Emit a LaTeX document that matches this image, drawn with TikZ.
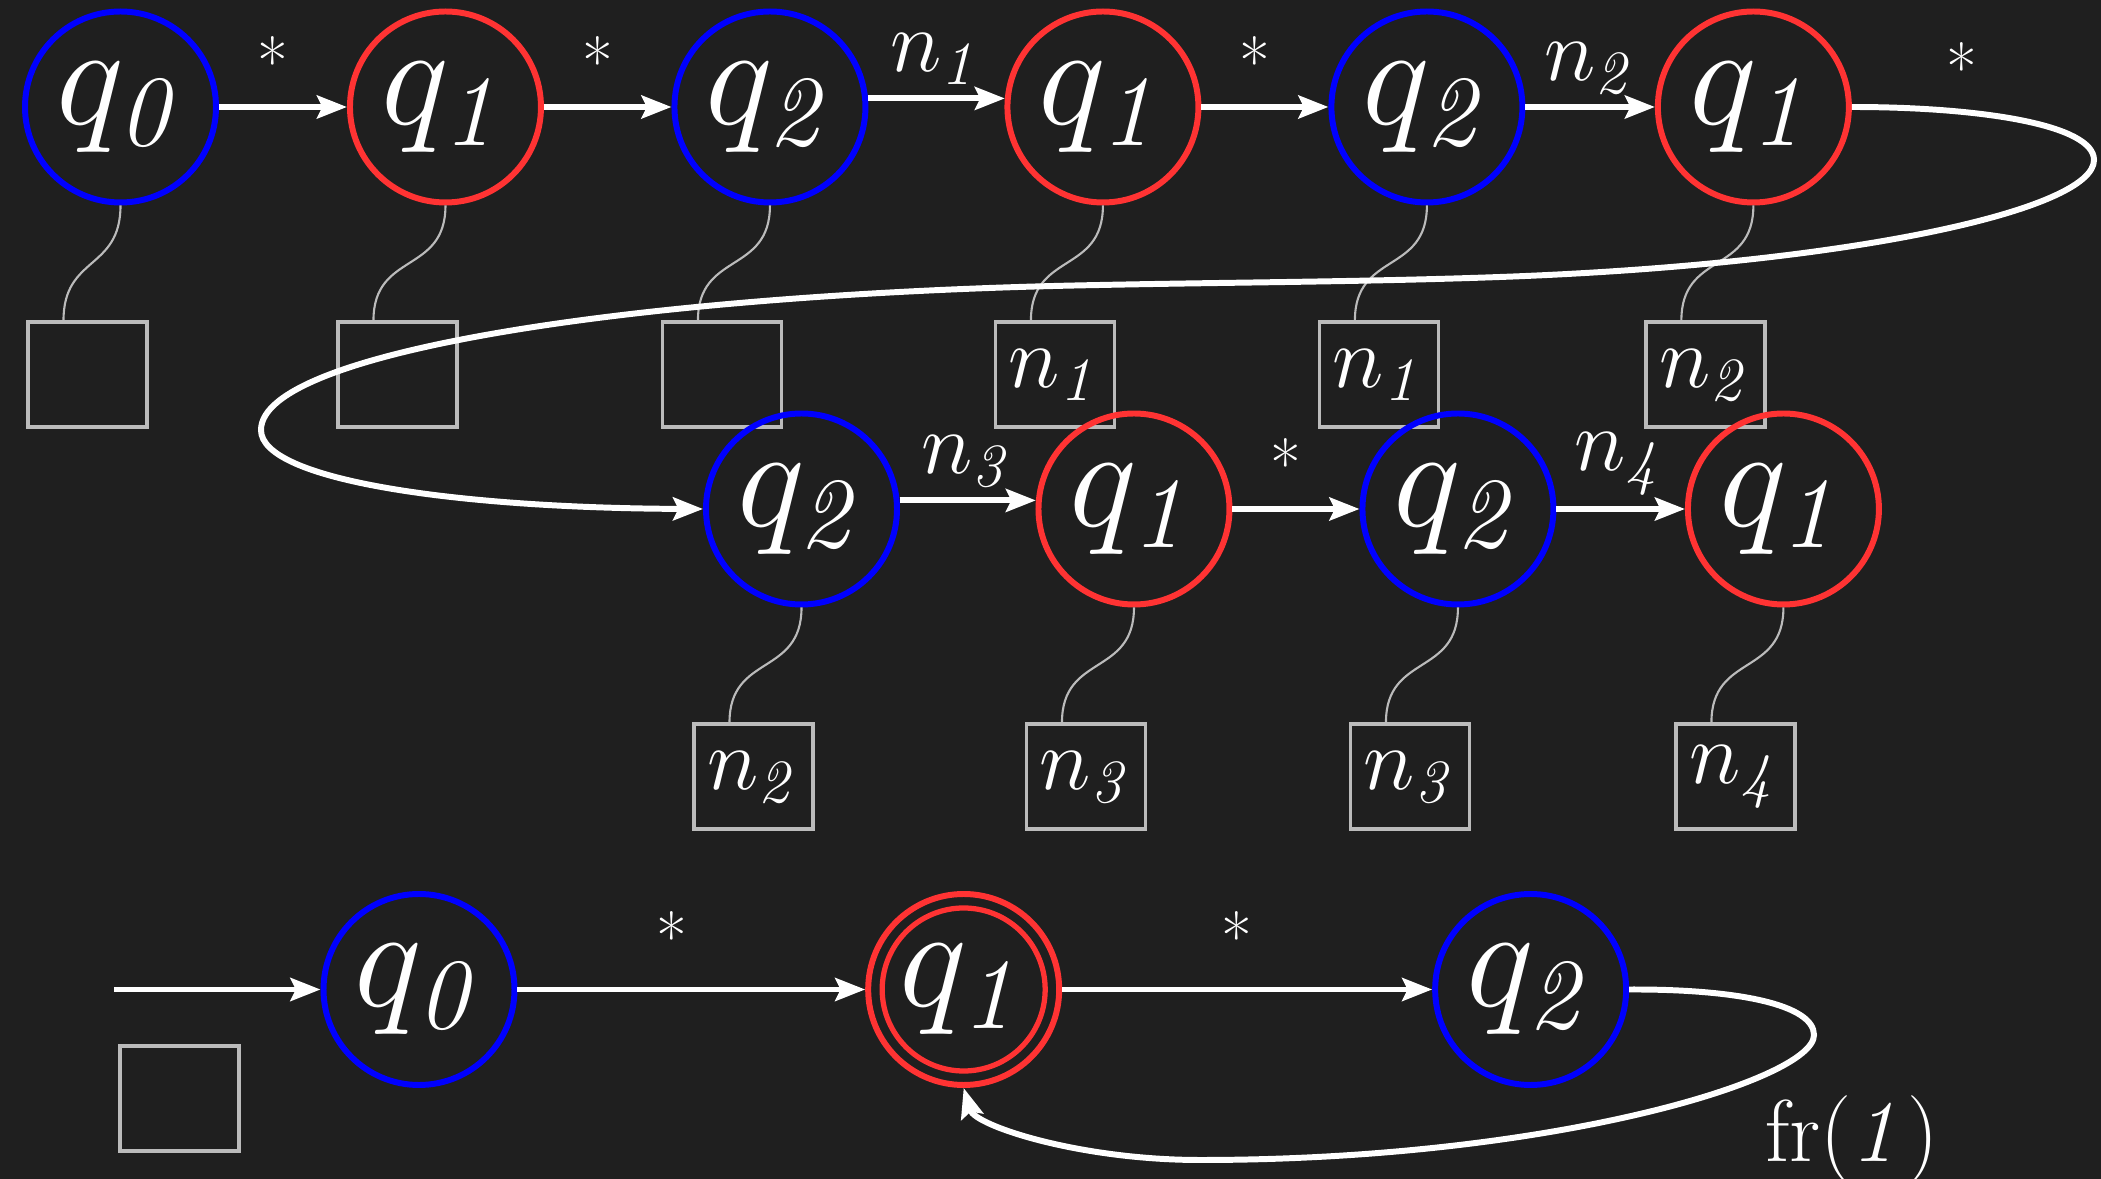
\RequirePackage{fix-cm}
\documentclass[tikz,border=0pt]{standalone}
\usetikzlibrary{arrows.meta, positioning}
\definecolor{bgdark}{HTML}{1F1F1F}
\definecolor{stblue}{HTML}{0000FF}
\definecolor{stred}{HTML}{FF3333}
\definecolor{boxgray}{HTML}{BBBBBB}

\begin{document}
\begin{tikzpicture}[
    node distance=1.28cm,
    state/.style={circle, draw, line width=1.7pt, minimum size=1.91cm,
                  inner sep=0pt, text=white, font=\fontsize{41}{48}\selectfont},
    sblue/.style={state, draw=stblue},
    sred/.style={state, draw=stred},
    stack/.style={draw=boxgray, line width=1pt, minimum width=1.19cm,
                  minimum height=1.05cm, inner sep=0pt, text=white,
                  font=\fontsize{25}{30}\selectfont},
    link/.style={draw=boxgray, line width=0.6pt, out=-90, in=90, looseness=1.3},
    arr/.style={-{Stealth[length=8.5pt, width=6.5pt, inset=1.5pt]},
                line width=1.7pt, white},
    lbl/.style={text=white, inner sep=0pt, font=\fontsize{25}{30}\selectfont},
    star/.style={text=white, inner sep=0pt, xshift=-0.1cm,
                 font=\fontsize{19}{22}\selectfont},
  ]
  \useasboundingbox (0,0) rectangle (21.01,-11.79);
  \fill[bgdark] (0,0) rectangle (21.01,-11.79);

  % Row 1: first run
  \node[sblue] (t0) at (1.205,-1.07) {$q_{\mathit{0}}$};
  \node[sred, right=1.28cm of t0] (t1) {$q_{\mathit{1}}$};
  \node[sblue, right=1.275cm of t1] (t2) {$q_{\mathit{2}}$};
  \node[sred, right=1.36cm of t2] (t3) {$q_{\mathit{1}}$};
  \node[sblue, right=1.27cm of t3] (t4) {$q_{\mathit{2}}$};
  \node[sred, right=1.295cm of t4] (t5) {$q_{\mathit{1}}$};

  \node[stack, below=1.15cm of t0, xshift=-0.33cm] (st0) {};
  \node[stack, below=1.15cm of t1, xshift=-0.48cm] (st1) {};
  \node[stack, below=1.15cm of t2, xshift=-0.48cm] (st2) {};
  \node[stack, below=1.15cm of t3, xshift=-0.48cm] (st3) {$n_{\mathit{1}}$};
  \node[stack, below=1.15cm of t4, xshift=-0.48cm] (st4) {$n_{\mathit{1}}$};
  \node[stack, below=1.15cm of t5, xshift=-0.48cm] (st5) {$n_{\mathit{2}}$};

  % Row 2: continued run
  \node[sblue] (m0) at (8.015,-5.09) {$q_{\mathit{2}}$};
  \node[sred, right=1.355cm of m0] (m1) {$q_{\mathit{1}}$};
  \node[sblue, right=1.27cm of m1] (m2) {$q_{\mathit{2}}$};
  \node[sred, right=1.285cm of m2] (m3) {$q_{\mathit{1}}$};

  \node[stack, below=1.15cm of m0, xshift=-0.48cm] (sm0) {$n_{\mathit{2}}$};
  \node[stack, below=1.15cm of m1, xshift=-0.48cm] (sm1) {$n_{\mathit{3}}$};
  \node[stack, below=1.15cm of m2, xshift=-0.48cm] (sm2) {$n_{\mathit{3}}$};
  \node[stack, below=1.15cm of m3, xshift=-0.48cm] (sm3) {$n_{\mathit{4}}$};

  % Row 3: automaton
  \node[sblue] (b0) at (4.19,-9.895) {$q_{\mathit{0}}$};
  \node[sred, right=3.477cm of b0] (b1) {$q_{\mathit{1}}$};
  \node[sblue, right=3.70cm of b1] (b2) {$q_{\mathit{2}}$};
  \draw[stred, line width=1.5pt] (b1.center) circle (0.815cm);
  \node[stack] (sb) at (1.795,-10.985) {};
  \coordinate (init) at (1.14,-9.895);

  % Stack links
  \foreach \s/\b in {t0/st0, t1/st1, t2/st2, t3/st3, t4/st4, t5/st5,
                     m0/sm0, m1/sm1, m2/sm2, m3/sm3}
    \draw[link] (\s.south) to ([xshift=-0.24cm]\b.north);

  % Transitions
  \draw[arr] (t0) -- node[star, midway, above=5pt] {*} (t1);
  \draw[arr] (t1) -- node[star, midway, above=5pt] {*} (t2);
  \draw[arr] (t2.5) -- node[lbl, midway, above=3pt] {$n_{\mathit{1}}$} (t3.175);
  \draw[arr] (t3) -- node[star, midway, above=5pt] {*} (t4);
  \draw[arr] (t4) -- node[lbl, midway, above=3pt] {$n_{\mathit{2}}$} (t5);
  \draw[arr] (t5.east) .. controls (19.82,-1.07) and (20.94,-1.25) .. (20.94,-1.60)
      node[star, pos=0.33, above=5pt] {*}
    .. controls (20.94,-2.10) and (18.50,-2.644) .. (15.00,-2.77)
    .. controls (13.67,-2.818) and (12.33,-2.823) .. (11.00,-2.85)
    .. controls (6.50,-2.93) and (2.61,-3.50) .. (2.61,-4.30)
    .. controls (2.61,-4.80) and (4.55,-5.08) .. (m0.west);
  \draw[arr] (m0.5) -- node[lbl, midway, above=3pt] {$n_{\mathit{3}}$} (m1.175);
  \draw[arr] (m1) -- node[star, midway, above=5pt] {*} (m2);
  \draw[arr] (m2) -- node[lbl, midway, above=3pt] {$n_{\mathit{4}}$} (m3);

  \draw[arr] (init) -- (b0);
  \draw[arr] (b0) -- node[star, midway, above=7pt, xshift=-0.1cm] {*} (b1);
  \draw[arr] (b1) -- node[star, midway, above=7pt] {*} (b2);
  \draw[arr] (b2.east) .. controls (17.39,-9.89) and (18.14,-10.05) .. (18.14,-10.35)
    .. controls (18.14,-10.80) and (15.50,-11.60) .. (12.00,-11.60)
    .. controls (10.80,-11.60) and (9.75,-11.26) .. (b1.south);
  \node[lbl] (fr) at (18.52,-11.40) {fr($\mathit{1}$)};
\end{tikzpicture}
\end{document}
